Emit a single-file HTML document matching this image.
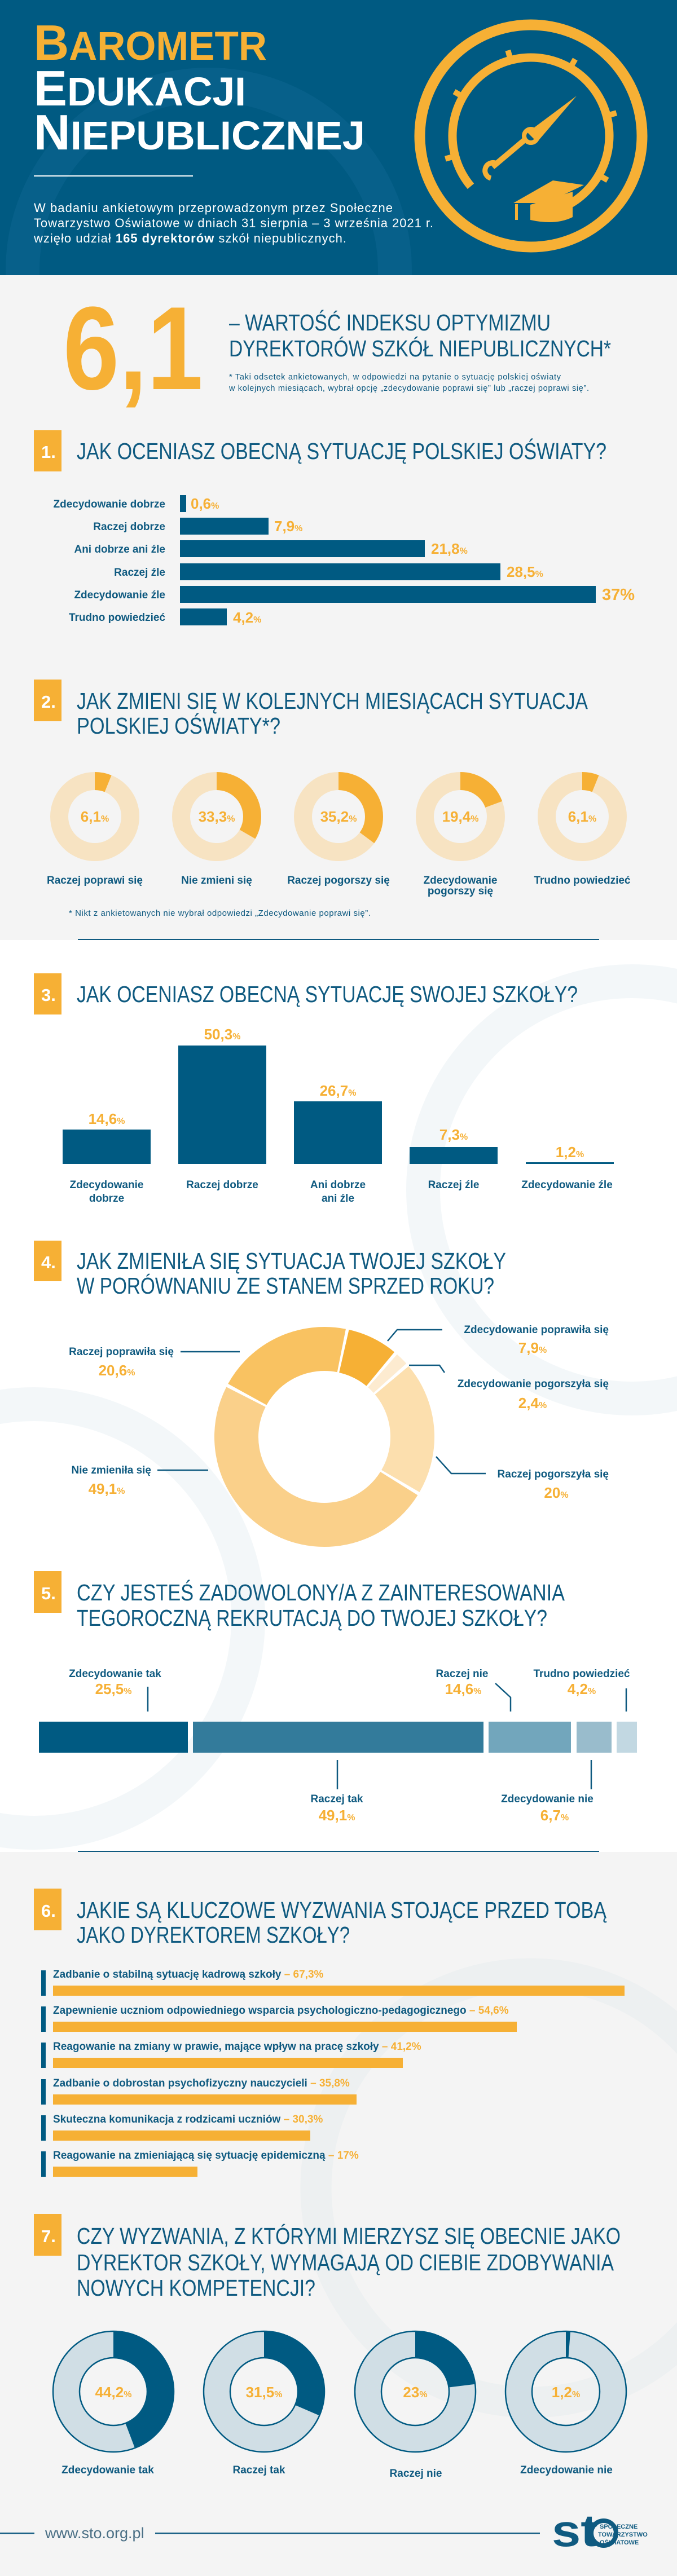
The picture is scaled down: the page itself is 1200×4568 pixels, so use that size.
<!DOCTYPE html>
<html><head><meta charset="utf-8"><style>
html,body{margin:0;padding:0;background:#f4f4f4}
svg{display:block}
text{font-family:"Liberation Sans",sans-serif}
.t{font-size:41px;fill:#0f5a80}
.lb{font-size:19px;font-weight:bold;fill:#0f5a80}
.v{font-size:26px;font-weight:bold;fill:#f6b035}
.p{font-size:16px}
</style></head><body>
<svg width="1200" height="4568" viewBox="0 0 1200 4568" xmlns="http://www.w3.org/2000/svg">
<defs><clipPath id="hc"><rect x="0" y="0" width="1200" height="488"/></clipPath></defs>
<!-- backgrounds -->
<rect x="0" y="0" width="1200" height="4568" fill="#f4f4f4"/>
<rect x="0" y="1667" width="1200" height="1617" fill="#ffffff"/>
<rect x="0" y="0" width="1200" height="488" fill="#005a82"/>
<!-- faint watermarks -->
<g clip-path="url(#hc)"><circle cx="370" cy="480" r="330" fill="none" stroke="#07608a" stroke-width="60"/></g>
<circle cx="1120" cy="2110" r="370" fill="none" stroke="#f3f7f9" stroke-width="60"/>
<circle cx="60" cy="2870" r="380" fill="none" stroke="#f3f7f9" stroke-width="60"/>
<circle cx="940" cy="3880" r="380" fill="none" stroke="#edf0f1" stroke-width="55"/>

<!-- header title -->
<text x="60" y="106" font-weight="bold" fill="#f6b035" textLength="413" lengthAdjust="spacingAndGlyphs"><tspan font-size="88">B</tspan><tspan font-size="71">AROMETR</tspan></text>
<text x="60" y="187" font-weight="bold" fill="#ffffff" textLength="376" lengthAdjust="spacingAndGlyphs"><tspan font-size="88">E</tspan><tspan font-size="71">DUKACJI</tspan></text>
<text x="60" y="265" font-weight="bold" fill="#ffffff" textLength="587" lengthAdjust="spacingAndGlyphs"><tspan font-size="88">N</tspan><tspan font-size="71">IEPUBLICZNEJ</tspan></text>
<rect x="60" y="311" width="282" height="2" fill="#ffffff"/>
<g font-size="22" fill="#ffffff">
<text x="60" y="376" textLength="636">W badaniu ankietowym przeprowadzonym przez Społeczne</text>
<text x="60" y="403" textLength="708">Towarzystwo Oświatowe w dniach 31 sierpnia – 3 września 2021 r.</text>
<text x="60" y="430" textLength="554">wzięło udział <tspan font-weight="bold">165 dyrektorów</tspan> szkół niepublicznych.</text>
</g>
<!-- gauge -->
<g transform="translate(0,-10)">
<g stroke="#f6b035" fill="none">
<circle cx="941" cy="251" r="197" stroke-width="19"/>
<circle cx="941" cy="251" r="139" stroke-width="15" stroke-dasharray="690 183" transform="rotate(140 941 251)"/>
<g stroke-width="10">
<line x1="941" y1="112" x2="941" y2="94" transform="rotate(-15 941 251)"/>
<line x1="941" y1="112" x2="941" y2="94" transform="rotate(30 941 251)"/>
<line x1="941" y1="112" x2="941" y2="94" transform="rotate(-60 941 251)"/>
<line x1="941" y1="112" x2="941" y2="94" transform="rotate(75 941 251)"/>
<line x1="941" y1="112" x2="941" y2="94" transform="rotate(-105 941 251)"/>
<line x1="941" y1="112" x2="941" y2="94" transform="rotate(120 941 251)"/>
</g>
<circle cx="941" cy="251" r="12" stroke-width="8"/>
<path d="M873 306 L930 258" stroke-width="10"/>
<path d="M880 300 a14 14 0 1 0 -10 26" stroke-width="9"/>
</g>
<polygon points="1022,180 952,262 935,245" fill="#f6b035"/>
<polygon points="910,370 980,330 1035,338 968,370" fill="#f6b035"/>
<path d="M940 373 L940 400 Q985 410 1015 395 L1015 350 Z" fill="#f6b035"/>
<rect x="913" y="372" width="5" height="28" fill="#f6b035"/>
</g>

<!-- index -->
<text x="112" y="690" font-size="210" font-weight="bold" fill="#f6b035" textLength="248" lengthAdjust="spacingAndGlyphs">6,1</text>
<text x="406" y="586" class="t" textLength="570" lengthAdjust="spacingAndGlyphs">– WARTOŚĆ INDEKSU OPTYMIZMU</text>
<text x="406" y="632" class="t" textLength="677" lengthAdjust="spacingAndGlyphs">DYREKTORÓW SZKÓŁ NIEPUBLICZNYCH*</text>
<text x="406" y="673" font-size="14.5" fill="#0f5a80" textLength="588">* Taki odsetek ankietowanych, w odpowiedzi na pytanie o sytuację polskiej oświaty</text>
<text x="406" y="693" font-size="14.5" fill="#0f5a80" textLength="638">w kolejnych miesiącach, wybrał opcję „zdecydowanie poprawi się” lub „raczej poprawi się”.</text>

<!-- section headers -->
<g fill="#f6b035">
<rect x="60" y="763" width="49" height="73"/>
<rect x="60" y="1205" width="49" height="74"/>
<rect x="60" y="1726" width="49" height="73"/>
<rect x="60" y="2200" width="49" height="72"/>
<rect x="60" y="2786" width="49" height="74"/>
<rect x="60" y="3349" width="49" height="74"/>
<rect x="60" y="3926" width="49" height="74"/>
</g>
<g font-size="31" font-weight="bold" fill="#ffffff">
<text x="73" y="812">1.</text><text x="73" y="1255">2.</text><text x="73" y="1775">3.</text>
<text x="73" y="2249">4.</text><text x="73" y="2836">5.</text><text x="73" y="3399">6.</text><text x="73" y="3976">7.</text>
</g>
<g class="t">
<text x="136" y="814" textLength="939" lengthAdjust="spacingAndGlyphs">JAK OCENIASZ OBECNĄ SYTUACJĘ POLSKIEJ OŚWIATY?</text>
<text x="136" y="1257" textLength="906" lengthAdjust="spacingAndGlyphs">JAK ZMIENI SIĘ W KOLEJNYCH MIESIĄCACH SYTUACJA</text>
<text x="136" y="1301" textLength="361" lengthAdjust="spacingAndGlyphs">POLSKIEJ OŚWIATY*?</text>
<text x="136" y="1777" textLength="888" lengthAdjust="spacingAndGlyphs">JAK OCENIASZ OBECNĄ SYTUACJĘ SWOJEJ SZKOŁY?</text>
<text x="136" y="2250" textLength="761" lengthAdjust="spacingAndGlyphs">JAK ZMIENIŁA SIĘ SYTUACJA TWOJEJ SZKOŁY</text>
<text x="136" y="2294" textLength="740" lengthAdjust="spacingAndGlyphs">W PORÓWNANIU ZE STANEM SPRZED ROKU?</text>
<text x="136" y="2838" textLength="865" lengthAdjust="spacingAndGlyphs">CZY JESTEŚ ZADOWOLONY/A Z ZAINTERESOWANIA</text>
<text x="136" y="2883" textLength="834" lengthAdjust="spacingAndGlyphs">TEGOROCZNĄ REKRUTACJĄ DO TWOJEJ SZKOŁY?</text>
<text x="136" y="3401" textLength="939" lengthAdjust="spacingAndGlyphs">JAKIE SĄ KLUCZOWE WYZWANIA STOJĄCE PRZED TOBĄ</text>
<text x="136" y="3445" textLength="484" lengthAdjust="spacingAndGlyphs">JAKO DYREKTOREM SZKOŁY?</text>
<text x="136" y="3979" textLength="964" lengthAdjust="spacingAndGlyphs">CZY WYZWANIA, Z KTÓRYMI MIERZYSZ SIĘ OBECNIE JAKO</text>
<text x="136" y="4026" textLength="952" lengthAdjust="spacingAndGlyphs">DYREKTOR SZKOŁY, WYMAGAJĄ OD CIEBIE ZDOBYWANIA</text>
<text x="136" y="4071" textLength="423" lengthAdjust="spacingAndGlyphs">NOWYCH KOMPETENCJI?</text>
</g>

<!-- section 1 bars -->
<g fill="#005a82">
<rect x="319" y="878" width="11" height="30"/>
<rect x="319" y="918" width="157" height="30"/>
<rect x="319" y="958" width="434" height="30"/>
<rect x="319" y="999" width="568" height="30"/>
<rect x="319" y="1039" width="737" height="30"/>
<rect x="319" y="1079" width="83" height="30"/>
</g>
<g class="lb" text-anchor="end">
<text x="293" y="900">Zdecydowanie dobrze</text>
<text x="293" y="940">Raczej dobrze</text>
<text x="293" y="980">Ani dobrze ani źle</text>
<text x="293" y="1021">Raczej źle</text>
<text x="293" y="1061">Zdecydowanie źle</text>
<text x="293" y="1101">Trudno powiedzieć</text>
</g>
<g class="v">
<text x="338" y="902">0,6<tspan class="p">%</tspan></text>
<text x="486" y="942">7,9<tspan class="p">%</tspan></text>
<text x="764" y="982">21,8<tspan class="p">%</tspan></text>
<text x="898" y="1023">28,5<tspan class="p">%</tspan></text>
<text x="1067" y="1064" font-size="29">37%</text>
<text x="413" y="1104">4,2<tspan class="p">%</tspan></text>
</g>

<!-- section 2 donuts -->
<g fill="none" stroke-width="32">
<circle cx="168" cy="1448" r="63" stroke="#f7e3c2"/>
<circle cx="384" cy="1448" r="63" stroke="#f7e3c2"/>
<circle cx="600" cy="1448" r="63" stroke="#f7e3c2"/>
<circle cx="816" cy="1448" r="63" stroke="#f7e3c2"/>
<circle cx="1032" cy="1448" r="63" stroke="#f7e3c2"/>
<circle cx="168" cy="1448" r="63" stroke="#f6b035" stroke-dasharray="24.15 400" transform="rotate(-90 168 1448)"/>
<circle cx="384" cy="1448" r="63" stroke="#f6b035" stroke-dasharray="131.8 400" transform="rotate(-90 384 1448)"/>
<circle cx="600" cy="1448" r="63" stroke="#f6b035" stroke-dasharray="139.3 400" transform="rotate(-90 600 1448)"/>
<circle cx="816" cy="1448" r="63" stroke="#f6b035" stroke-dasharray="76.8 400" transform="rotate(-90 816 1448)"/>
<circle cx="1032" cy="1448" r="63" stroke="#f6b035" stroke-dasharray="24.15 400" transform="rotate(-90 1032 1448)"/>
</g>
<g class="v" font-size="24" text-anchor="middle">
<text x="168" y="1457">6,1<tspan class="p">%</tspan></text>
<text x="384" y="1457">33,3<tspan class="p">%</tspan></text>
<text x="600" y="1457">35,2<tspan class="p">%</tspan></text>
<text x="816" y="1457">19,4<tspan class="p">%</tspan></text>
<text x="1032" y="1457">6,1<tspan class="p">%</tspan></text>
</g>
<g class="lb" font-size="17" text-anchor="middle">
<text x="168" y="1567">Raczej poprawi się</text>
<text x="384" y="1567">Nie zmieni się</text>
<text x="600" y="1567">Raczej pogorszy się</text>
<text x="816" y="1567">Zdecydowanie</text>
<text x="816" y="1586">pogorszy się</text>
<text x="1032" y="1567">Trudno powiedzieć</text>
</g>
<text x="122" y="1624" font-size="15" fill="#0f5a80" textLength="535">* Nikt z ankietowanych nie wybrał odpowiedzi „Zdecydowanie poprawi się”.</text>
<rect x="138" y="1665" width="924" height="2" fill="#0f5a80"/>

<!-- section 3 columns -->
<g fill="#005a82">
<rect x="111" y="2003" width="156" height="61"/>
<rect x="316" y="1854" width="156" height="210"/>
<rect x="521" y="1953" width="156" height="111"/>
<rect x="726" y="2034" width="156" height="30"/>
<rect x="932" y="2061" width="156" height="3"/>
</g>
<g class="v" text-anchor="middle">
<text x="189" y="1993">14,6<tspan class="p">%</tspan></text>
<text x="394" y="1843">50,3<tspan class="p">%</tspan></text>
<text x="599" y="1943">26,7<tspan class="p">%</tspan></text>
<text x="804" y="2021">7,3<tspan class="p">%</tspan></text>
<text x="1010" y="2052">1,2<tspan class="p">%</tspan></text>
</g>
<g class="lb" font-size="20" text-anchor="middle">
<text x="189" y="2107">Zdecydowanie</text><text x="189" y="2131">dobrze</text>
<text x="394" y="2107">Raczej dobrze</text>
<text x="599" y="2107">Ani dobrze</text><text x="599" y="2131">ani źle</text>
<text x="804" y="2107">Raczej źle</text>
<text x="1005" y="2107">Zdecydowanie źle</text>
</g>

<!-- section 4 donut -->
<g fill="none" stroke-width="78" transform="rotate(-78 575 2548)">
<circle cx="575" cy="2548" r="156" stroke="#f6b035" stroke-dasharray="72.4 980" stroke-dashoffset="-2.5"/>
<circle cx="575" cy="2548" r="156" stroke="#fdebd0" stroke-dasharray="18.5 980" stroke-dashoffset="-79.9"/>
<circle cx="575" cy="2548" r="156" stroke="#fcdfae" stroke-dasharray="191 980" stroke-dashoffset="-103.4"/>
<circle cx="575" cy="2548" r="156" stroke="#fad08a" stroke-dasharray="476.3 980" stroke-dashoffset="-299.4"/>
<circle cx="575" cy="2548" r="156" stroke="#f9c261" stroke-dasharray="196.9 980" stroke-dashoffset="-780.7"/>
</g>
<g fill="none" stroke="#0f5a80" stroke-width="2.5">
<path d="M320 2397 H425"/>
<path d="M687 2378 L704 2358 H784"/>
<path d="M725 2421 H779 L788 2434"/>
<path d="M279 2607 H369"/>
<path d="M773 2583 L800 2613 H861"/>
</g>
<g class="lb">
<text x="308" y="2403" text-anchor="end">Raczej poprawiła się</text>
<text x="1079" y="2364" text-anchor="end">Zdecydowanie poprawiła się</text>
<text x="1079" y="2460" text-anchor="end">Zdecydowanie pogorszyła się</text>
<text x="268" y="2613" text-anchor="end">Nie zmieniła się</text>
<text x="1079" y="2620" text-anchor="end">Raczej pogorszyła się</text>
</g>
<g class="v" text-anchor="middle">
<text x="207" y="2439">20,6<tspan class="p">%</tspan></text>
<text x="944" y="2399">7,9<tspan class="p">%</tspan></text>
<text x="944" y="2497">2,4<tspan class="p">%</tspan></text>
<text x="189" y="2649">49,1<tspan class="p">%</tspan></text>
<text x="986" y="2656">20<tspan class="p">%</tspan></text>
</g>

<!-- section 5 stacked -->
<rect x="69" y="3053" width="264" height="55" fill="#005a82"/>
<rect x="342" y="3053" width="515" height="55" fill="#337b9b"/>
<rect x="866" y="3053" width="146" height="55" fill="#72a6bc"/>
<rect x="1022" y="3053" width="62" height="55" fill="#99bccc"/>
<rect x="1093" y="3053" width="36" height="55" fill="#c2d8e2"/>
<g fill="none" stroke="#0f5a80" stroke-width="2.5">
<path d="M262 2991 V3035"/>
<path d="M878 2985 L905 3010 V3035"/>
<path d="M1110 2994 V3035"/>
<path d="M598 3121 V3173"/>
<path d="M1048 3121 V3173"/>
</g>
<g class="lb" text-anchor="middle">
<text x="204" y="2974">Zdecydowanie tak</text>
<text x="819" y="2974">Raczej nie</text>
<text x="1031" y="2974">Trudno powiedzieć</text>
<text x="597" y="3196">Raczej tak</text>
<text x="970" y="3196">Zdecydowanie nie</text>
</g>
<g class="v" text-anchor="middle">
<text x="201" y="3004">25,5<tspan class="p">%</tspan></text>
<text x="821" y="3004">14,6<tspan class="p">%</tspan></text>
<text x="1031" y="3004">4,2<tspan class="p">%</tspan></text>
<text x="597" y="3228">49,1<tspan class="p">%</tspan></text>
<text x="983" y="3228">6,7<tspan class="p">%</tspan></text>
</g>
<rect x="138" y="3282" width="924" height="2" fill="#0f5a80"/>

<!-- section 6 -->
<g fill="#005a82">
<rect x="73" y="3494" width="8" height="45"/><rect x="73" y="3558" width="8" height="45"/>
<rect x="73" y="3622" width="8" height="45"/><rect x="73" y="3687" width="8" height="45"/>
<rect x="73" y="3751" width="8" height="45"/><rect x="73" y="3815" width="8" height="45"/>
</g>
<g fill="#f6b035">
<rect x="94" y="3521" width="1013" height="18"/>
<rect x="94" y="3585" width="822" height="18"/>
<rect x="94" y="3649" width="620" height="18"/>
<rect x="94" y="3714" width="538" height="18"/>
<rect x="94" y="3778" width="456" height="18"/>
<rect x="94" y="3842" width="256" height="18"/>
</g>
<g class="lb">
<text x="94" y="3507">Zadbanie o stabilną sytuację kadrową szkoły <tspan fill="#f6b035">– 67,3%</tspan></text>
<text x="94" y="3571">Zapewnienie uczniom odpowiedniego wsparcia psychologiczno-pedagogicznego <tspan fill="#f6b035">– 54,6%</tspan></text>
<text x="94" y="3635">Reagowanie na zmiany w prawie, mające wpływ na pracę szkoły <tspan fill="#f6b035">– 41,2%</tspan></text>
<text x="94" y="3700">Zadbanie o dobrostan psychofizyczny nauczycieli <tspan fill="#f6b035">– 35,8%</tspan></text>
<text x="94" y="3764">Skuteczna komunikacja z rodzicami uczniów <tspan fill="#f6b035">– 30,3%</tspan></text>
<text x="94" y="3828">Reagowanie na zmieniającą się sytuację epidemiczną <tspan fill="#f6b035">– 17%</tspan></text>
</g>

<!-- section 7 donuts -->
<g fill="none">
<g stroke="#d0dee5" stroke-width="47">
<circle cx="201" cy="4241" r="83.5"/><circle cx="468" cy="4241" r="83.5"/>
<circle cx="736" cy="4241" r="83.5"/><circle cx="1003" cy="4241" r="83.5"/>
</g>
<g stroke="#005a82" stroke-width="47">
<circle cx="201" cy="4241" r="83.5" stroke-dasharray="231.9 600" transform="rotate(-90 201 4241)"/>
<circle cx="468" cy="4241" r="83.5" stroke-dasharray="165.2 600" transform="rotate(-90 468 4241)"/>
<circle cx="736" cy="4241" r="83.5" stroke-dasharray="120.7 600" transform="rotate(-90 736 4241)"/>
<circle cx="1003" cy="4241" r="83.5" stroke-dasharray="6.3 600" transform="rotate(-90 1003 4241)"/>
</g>
<g stroke="#005a82" stroke-width="2.5">
<circle cx="201" cy="4241" r="107"/><circle cx="201" cy="4241" r="60"/>
<circle cx="468" cy="4241" r="107"/><circle cx="468" cy="4241" r="60"/>
<circle cx="736" cy="4241" r="107"/><circle cx="736" cy="4241" r="60"/>
<circle cx="1003" cy="4241" r="107"/><circle cx="1003" cy="4241" r="60"/>
</g>
</g>
<g class="v" text-anchor="middle">
<text x="201" y="4251">44,2<tspan class="p">%</tspan></text>
<text x="468" y="4251">31,5<tspan class="p">%</tspan></text>
<text x="736" y="4251">23<tspan class="p">%</tspan></text>
<text x="1003" y="4251">1,2<tspan class="p">%</tspan></text>
</g>
<g class="lb" font-size="20" text-anchor="middle">
<text x="191" y="4386">Zdecydowanie tak</text>
<text x="459" y="4386">Raczej tak</text>
<text x="737" y="4392">Raczej nie</text>
<text x="1004" y="4386">Zdecydowanie nie</text>
</g>

<!-- footer -->
<rect x="0" y="4491" width="61" height="2.5" fill="#0f5a80"/>
<rect x="275" y="4491" width="682" height="2.5" fill="#0f5a80"/>
<text x="80" y="4501" font-size="27" fill="#4a6f85">www.sto.org.pl</text>
<text x="978" y="4515" font-size="80" font-weight="bold" fill="#0f5a80" textLength="82" lengthAdjust="spacingAndGlyphs">st</text>
<circle cx="1070" cy="4492" r="22" fill="none" stroke="#0f5a80" stroke-width="8"/>
<g font-size="11" font-weight="bold" fill="#0f5a80">
<text x="1063" y="4484">SPOŁECZNE</text>
<text x="1060" y="4498">TOWARZYSTWO</text>
<text x="1063" y="4512">OŚWIATOWE</text>
</g>
</svg>
</body></html>
